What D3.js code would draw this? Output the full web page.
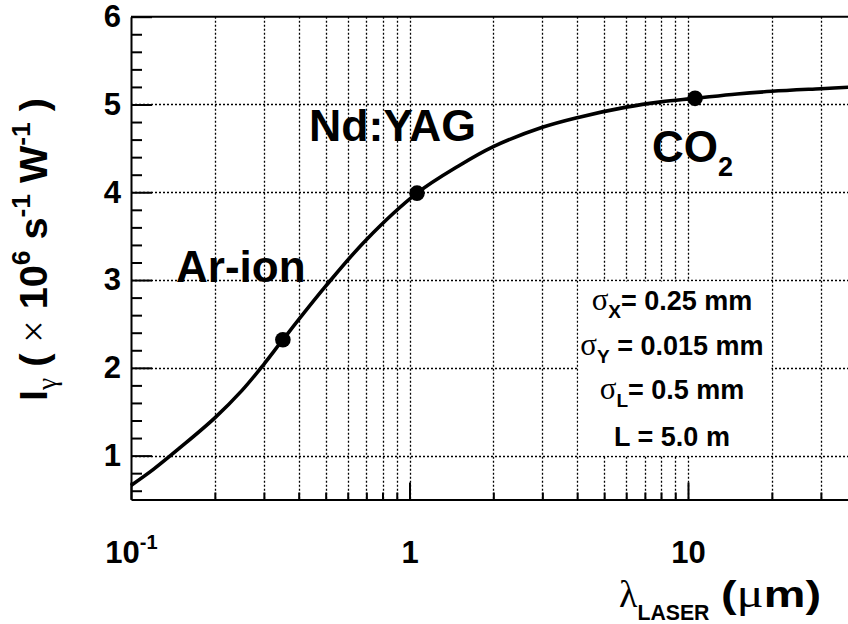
<!DOCTYPE html>
<html><head><meta charset="utf-8">
<script src="https://cdn.jsdelivr.net/npm/d3@7"></script>
<style>body{margin:0;background:#fff} svg{display:block} text{white-space:pre}</style>
</head><body><svg id="c" width="848" height="624"></svg>
<script>
// ---- data ----
const lambdaValues    = [0.1, 0.12, 0.15, 0.2, 0.25, 0.3, 0.351, 0.5, 0.7, 1.064, 1.5, 2, 3, 4, 6, 8, 10.6, 15, 20, 30, 40];
const intensityValues = [0.66, 0.84, 1.09, 1.43, 1.74, 2.04, 2.32, 2.93, 3.46, 3.99, 4.30, 4.52, 4.74, 4.85, 4.97, 5.03, 5.07, 5.12, 5.15, 5.18, 5.20];
const laserNames     = ["Ar-ion", "Nd:YAG", "CO"];
const laserLambda    = [0.351, 1.064, 10.6];
const laserIntensity = [2.32, 3.99, 5.07];
const yMajorTicks = [1, 2, 3, 4, 5, 6];
const yMinorTicks = [0.6, 0.8, 1.2, 1.4, 1.6, 1.8, 2.2, 2.4, 2.6, 2.8, 3.2, 3.4, 3.6, 3.8, 4.2, 4.4, 4.6, 4.8, 5.2, 5.4, 5.6, 5.8];
const xMajorTicks = [0.1, 1, 10];
const xMinorTicks = [0.2, 0.3, 0.4, 0.5, 0.6, 0.7, 0.8, 0.9, 2, 3, 4, 5, 6, 7, 8, 9, 20, 30, 40];
const yGridValues = [1, 2, 3, 4, 5];
const xGridValues = [0.2, 0.3, 0.4, 0.5, 0.6, 0.7, 0.8, 0.9, 1, 2, 3, 4, 5, 6, 7, 8, 9, 10, 20, 30, 40];
const paramLines = [
  {g: "σ", sub: "X", rest: "= 0.25 mm"},
  {g: "σ", sub: "Y", rest: " = 0.015 mm"},
  {g: "σ", sub: "L", rest: "= 0.5 mm"},
  {g: "",  sub: "",  rest: "L = 5.0 m"}
];

// ---- layout ----
const W = 848, H = 624;
const P = {left: 131, top: 16.7, bottom: 499.5, decade: 278.5};
const FONT = "'Liberation Sans', Arial, Helvetica, sans-serif";
const GREEK = "'Liberation Serif', 'Times New Roman', serif";

const x = d3.scaleLog().domain([0.1, 50]).range([P.left, P.left + P.decade * Math.log10(500)]);
const y = d3.scaleLinear().domain([0.5, 6]).range([P.bottom, P.top]);
const crisp = v => Math.round(v) + 0.5;

const svg = d3.select("#c");

// grid
const grid = svg.append("g").attr("stroke", "#000").attr("stroke-width", 1.3).attr("stroke-dasharray", "2,2");
grid.selectAll("line.v").data(xGridValues).join("line").attr("class", "v")
  .attr("x1", d => crisp(x(d))).attr("x2", d => crisp(x(d))).attr("y1", P.top).attr("y2", P.bottom);
grid.selectAll("line.h").data(yGridValues).join("line").attr("class", "h")
  .attr("x1", P.left).attr("x2", W).attr("y1", d => crisp(y(d))).attr("y2", d => crisp(y(d)));

// parameter box (white background hiding grid, faint edges)
svg.append("rect")
  .attr("x", crisp(x(4)) + 1).attr("y", crisp(y(3)) + 1)
  .attr("width", crisp(x(20)) - crisp(x(4)) - 2).attr("height", crisp(y(1)) - crisp(y(3)) - 2)
  .attr("fill", "#fff");

// axes
function styleAxis(g) {
  g.select(".domain").attr("stroke-width", 2);
  g.selectAll(".tick line").attr("stroke-width", 2);
  g.selectAll(".tick text").attr("font-size", 31).attr("font-weight", "bold")
    .attr("font-family", FONT).attr("fill", "#000");
}
svg.append("g").attr("transform", `translate(${P.left},0)`)
  .call(d3.axisLeft(y).tickValues(yMinorTicks).tickSize(-11).tickSizeOuter(0).tickFormat(""))
  .call(g => g.select(".domain").remove())
  .call(g => g.selectAll(".tick line").attr("stroke-width", 2));
svg.append("g").attr("transform", `translate(${P.left},0)`)
  .call(d3.axisLeft(y).tickValues(yMajorTicks).tickSize(-21).tickSizeOuter(0).tickPadding(10).tickFormat(d3.format("d")))
  .call(styleAxis);

svg.append("g").attr("transform", `translate(0,${P.bottom})`)
  .call(d3.axisBottom(x).tickValues(xMinorTicks).tickSize(-7).tickSizeOuter(0).tickFormat(""))
  .call(g => g.select(".domain").remove())
  .call(g => g.selectAll(".tick line").attr("stroke-width", 2));
const xAxisG = svg.append("g").attr("transform", `translate(0,${P.bottom})`)
  .call(d3.axisBottom(x).tickValues(xMajorTicks).tickSize(-17).tickSizeOuter(0).tickFormat(d => d >= 1 ? String(d) : "10"))
  .call(styleAxis);
xAxisG.selectAll(".tick text").attr("y", 63.5).attr("dy", null)
  .each(function (d) {
    if (d < 1) {
      const t = d3.select(this);
      t.text("10");
      t.append("tspan").attr("font-size", 20).attr("dy", -14).text("-1");
    }
  });

// top frame line
svg.append("line").attr("x1", P.left).attr("x2", W).attr("y1", P.top).attr("y2", P.top)
  .attr("stroke", "#000").attr("stroke-width", 2);

// curve
const pts = lambdaValues.map((l, i) => [l, intensityValues[i]]);
svg.append("path").datum(pts)
  .attr("fill", "none").attr("stroke", "#000").attr("stroke-width", 3.6)
  .attr("d", d3.line().x(d => x(d[0])).y(d => y(d[1])).curve(d3.curveCatmullRom.alpha(0.5)));

// laser points
svg.selectAll("circle.laser").data(laserLambda).join("circle").attr("class", "laser")
  .attr("cx", d => x(d)).attr("cy", (d, i) => y(laserIntensity[i])).attr("r", 7.8).attr("fill", "#000");

// laser labels
const lab = svg.append("g").attr("font-family", FONT).attr("font-weight", "bold").attr("font-size", 44).attr("fill", "#000");
lab.append("text").attr("x", 176).attr("y", 282).text(laserNames[0]);
lab.append("text").attr("x", 309).attr("y", 141).attr("textLength", 167).attr("lengthAdjust", "spacingAndGlyphs").text(laserNames[1]);
const co = lab.append("text").attr("x", 652).attr("y", 162).text(laserNames[2]);
co.append("tspan").attr("font-size", 27).attr("dy", 14).text("2");

// parameter text
const baselines = [310, 355, 399, 446];
paramLines.forEach((p, i) => {
  const t = svg.append("text").attr("x", 672).attr("y", baselines[i]).attr("text-anchor", "middle")
    .attr("font-family", FONT).attr("font-weight", "bold").attr("font-size", 27).attr("fill", "#000");
  if (p.g) {
    t.append("tspan").attr("font-family", GREEK).attr("font-weight", "normal").attr("font-size", 31).text(p.g);
    t.append("tspan").attr("font-size", 19).attr("dy", 8).text(p.sub);
    t.append("tspan").attr("dy", -8).text(p.rest);
  } else {
    t.text(p.rest);
  }
});

// y title
const yt = svg.append("text").attr("transform", "translate(47,401) rotate(-90)")
  .attr("font-family", FONT).attr("font-weight", "bold").attr("font-size", 39).attr("fill", "#000")
  .attr("textLength", 303).attr("lengthAdjust", "spacingAndGlyphs");
yt.append("tspan").text("I");
yt.append("tspan").attr("font-family", GREEK).attr("font-weight", "normal").attr("font-size", 27).attr("dy", 9).text("γ");
yt.append("tspan").attr("dy", -9).text(" ( ");
yt.append("tspan").attr("font-family", GREEK).attr("font-weight", "normal").text("×");
yt.append("tspan").text(" 10");
yt.append("tspan").attr("font-size", 26).attr("dy", -17).text("6");
yt.append("tspan").attr("dy", 17).text(" s");
yt.append("tspan").attr("font-size", 26).attr("dy", -17).text("-1");
yt.append("tspan").attr("dy", 17).text(" W");
yt.append("tspan").attr("font-size", 26).attr("dy", -17).text("-1");
yt.append("tspan").attr("dy", 17).text(" )");

// x title
const xt1 = svg.append("text").attr("x", 619).attr("y", 607)
  .attr("font-family", FONT).attr("font-weight", "bold").attr("font-size", 36).attr("fill", "#000");
xt1.append("tspan").attr("font-family", GREEK).attr("font-weight", "normal").attr("font-size", 38).text("λ");
xt1.append("tspan").attr("font-size", 22).attr("dy", 13).attr("textLength", 72).attr("lengthAdjust", "spacingAndGlyphs").text("LASER");
const xt2 = svg.append("text").attr("x", 721).attr("y", 607)
  .attr("font-family", FONT).attr("font-weight", "bold").attr("font-size", 37).attr("fill", "#000")
  .attr("textLength", 100).attr("lengthAdjust", "spacingAndGlyphs");
xt2.append("tspan").text("(");
xt2.append("tspan").attr("font-family", GREEK).attr("font-weight", "normal").attr("font-size", 40).text("μ");
xt2.append("tspan").text("m)");
</script></body></html>
